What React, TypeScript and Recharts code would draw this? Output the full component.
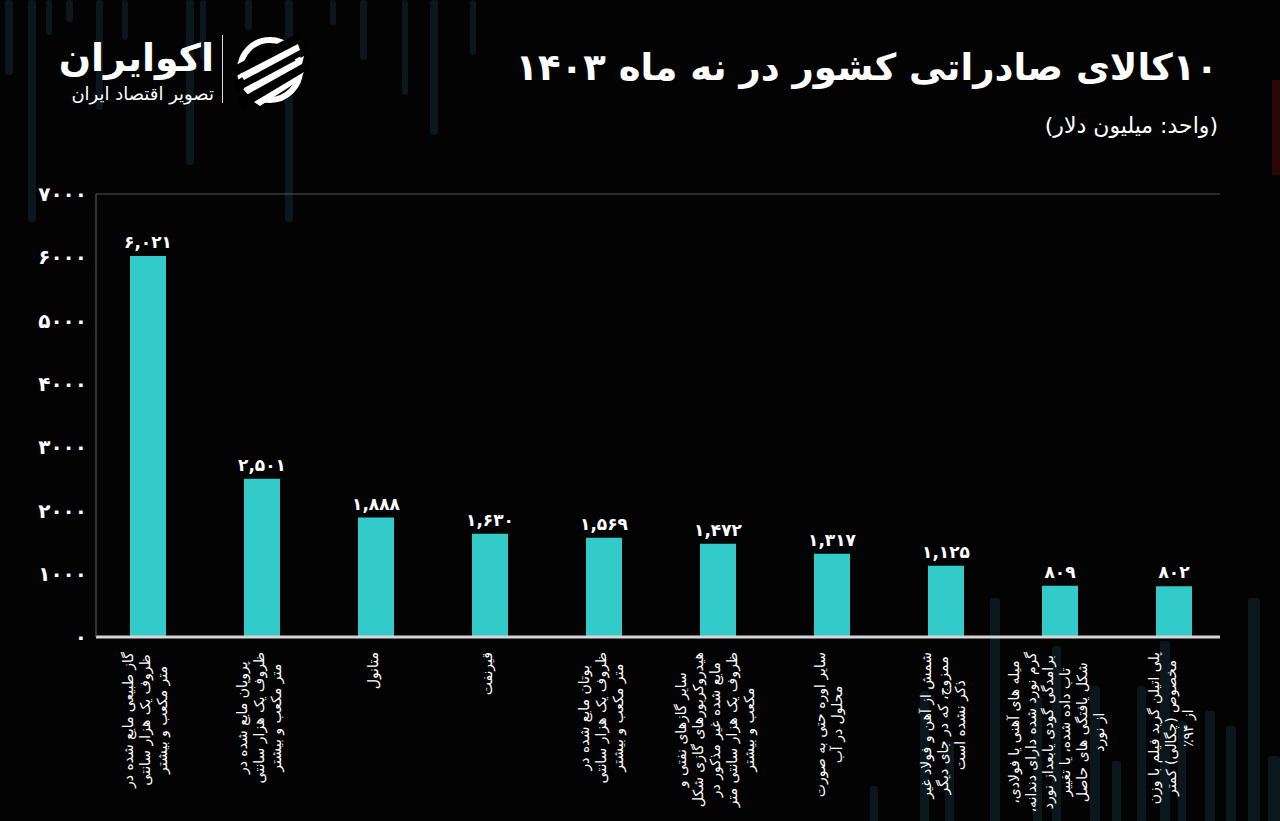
import { BarChart, Bar, XAxis, YAxis, CartesianGrid, LabelList } from "recharts";

const categoryLines: string[][] = [
  ["گاز طبیعی مایع شده در", "ظروف یک هزار سانتی", "متر مکعب و بیشتر"],
  ["پروپان مایع شده در", "ظروف یک هزار سانتی", "متر مکعب و بیشتر"],
  ["متانول"],
  ["قیرنفت"],
  ["بوتان مایع شده در", "ظروف یک هزار سانتی", "متر مکعب و بیشتر"],
  [
    "سایر گازهای نفتی و",
    "هیدروکربورهای گازی شکل",
    "مایع شده غیر مذکور در",
    "ظروف یک هزار سانتی متر",
    "مکعب و بیشتر",
  ],
  ["سایر اوره حتی به صورت", "محلول در آب"],
  ["شمش از آهن و فولاد غیر", "ممزوج، که در جای دیگر", "ذکر نشده است"],
  [
    "میله های آهنی یا فولادی،",
    "گرم نورد شده دارای دندانه،",
    "برامدگی گودی یابعداز نورد",
    "تاب داده شده، یا تغییر",
    "شکل یافتگی های حاصل",
    "از نورد",
  ],
  ["پلی اتیلن گرید فیلم با وزن", "مخصوص (چگالی) کمتر", "از ۹۴٪"],
];

const exportValues = [6021, 2501, 1888, 1630, 1569, 1472, 1317, 1125, 809, 802];

const yTicks = [0, 1000, 2000, 3000, 4000, 5000, 6000, 7000];

const title = "۱۰کالای صادراتی کشور در نه ماه ۱۴۰۳";
const subtitle = "(واحد: میلیون دلار)";
const brandName = "اکوایران";
const brandTagline = "تصویر اقتصاد ایران";

const data = categoryLines.map((lines, i) => ({
  name: lines.join(" "),
  value: exportValues[i],
}));

// background ornaments (dim vertical strips like the original artwork)
const topStrips = [
  [5, 8, 75], [28, 8, 222], [46, 6, 35], [66, 7, 22], [96, 7, 110],
  [122, 6, 40], [186, 8, 165], [200, 6, 60], [245, 7, 30], [285, 8, 222],
  [330, 6, 25], [360, 7, 60], [402, 6, 95], [430, 8, 135], [470, 6, 55],
];
const bottomStrips = [
  [990, 10, 223], [1033, 9, 125], [1052, 9, 175], [1090, 10, 135], [1112, 9, 60],
  [1137, 9, 135], [1160, 10, 180], [1178, 8, 100], [1205, 10, 110], [1226, 10, 95],
  [1248, 12, 223], [1268, 12, 65], [920, 9, 130], [945, 9, 80], [870, 8, 35],
];

const FONT = "'DejaVu Sans', sans-serif";
const FA_DIGITS = "۰۱۲۳۴۵۶۷۸۹";

function toFa(n: number, grouped: boolean): string {
  const s = grouped ? n.toLocaleString("en-US") : String(n);
  return s.replace(/\d/g, (d) => FA_DIGITS[+d]);
}

const measureCtx =
  typeof document !== "undefined"
    ? document.createElement("canvas").getContext("2d")
    : null;

function textWidth(s: string, size: number): number {
  if (!measureCtx) return s.length * size * 0.5;
  measureCtx.font = `${size}px ${FONT}`;
  return measureCtx.measureText(s).width;
}

const LABEL_SIZE = 14;
const LINE_H = 17;

function CategoryTick(props: any) {
  const { x, y, index } = props;
  const lines = categoryLines[index] ?? [];
  const maxW = Math.max(...lines.map((l) => textWidth(l, LABEL_SIZE)));
  const n = lines.length;
  return (
    <g transform={`translate(${x - 3},${y + 13}) rotate(-90)`}>
      {lines.map((l, i) => (
        <text
          key={i}
          x={-maxW / 2}
          y={(i - (n - 1) / 2) * LINE_H}
          dy="0.35em"
          textAnchor="middle"
          direction="rtl"
          fill="#ffffff"
          fontSize={LABEL_SIZE}
          fontFamily={FONT}
        >
          {l}
        </text>
      ))}
    </g>
  );
}

function Logo() {
  return (
    <svg
      width={80}
      height={80}
      viewBox="0 0 80 80"
      style={{ position: "absolute", left: 230, top: 30 }}
    >
      <circle cx={40} cy={40} r={30} fill="none" stroke="#fff" strokeWidth={6} />
      <polygon points="4,52 76,10 78,22 8,62" fill="#000" />
      <polygon points="4,36 70,2 76,12 6,46" fill="#000" />
      <polygon points="8,70 80,26 80,40 14,78" fill="#000" />
      <polygon points="10,44 68,14 70,20 14,50" fill="#fff" />
      <polygon points="14,58 74,26 72,34 18,64" fill="#fff" />
      <polygon points="24,72 74,42 70,50 30,76" fill="#fff" />
    </svg>
  );
}

export default function App() {
  return (
    <div
      style={{
        position: "absolute",
        left: 0,
        top: 0,
        width: 1280,
        height: 821,
        background: "#030303",
        overflow: "hidden",
        fontFamily: FONT,
      }}
    >
      <svg width={1280} height={821} style={{ position: "absolute", left: 0, top: 0 }}>
        {topStrips.map(([x, w, h], i) => (
          <rect key={`t${i}`} x={x} y={0} width={w} height={h} rx={3} fill="#0a171c" />
        ))}
        {bottomStrips.map(([x, w, h], i) => (
          <rect key={`b${i}`} x={x} y={821 - h} width={w} height={h + 4} rx={3} fill="#0a171c" />
        ))}
        <rect x={1272} y={80} width={10} height={95} fill="#2a0707" />
      </svg>

      <div
        style={{
          position: "absolute",
          left: 46,
          top: 34,
          width: 168,
          color: "#fff",
          direction: "rtl",
          textAlign: "right",
        }}
      >
        <div style={{ fontSize: 38, fontWeight: 700, lineHeight: "48px" }}>{brandName}</div>
        <div style={{ fontSize: 18, lineHeight: "20px", marginTop: 2, letterSpacing: 1.5 }}>
          {brandTagline}
        </div>
      </div>
      <div
        style={{
          position: "absolute",
          left: 222,
          top: 35,
          width: 1,
          height: 68,
          background: "#ddd",
        }}
      />
      <Logo />

      <div
        style={{
          position: "absolute",
          right: 62,
          top: 46,
          color: "#fff",
          direction: "rtl",
          fontSize: 37,
          fontWeight: 700,
          whiteSpace: "nowrap",
        }}
      >
        {title}
      </div>
      <div
        style={{
          position: "absolute",
          right: 62,
          top: 113,
          color: "#fff",
          direction: "rtl",
          fontSize: 22,
          whiteSpace: "nowrap",
        }}
      >
        {subtitle}
      </div>

      <div style={{ position: "absolute", left: 0, top: 0 }}>
        <BarChart
          width={1280}
          height={821}
          data={data}
          margin={{ top: 194, right: 60, bottom: 4, left: 0 }}
          barSize={36}
        >
          <CartesianGrid horizontal vertical={false} stroke="#555" strokeWidth={1} />
          <XAxis
            dataKey="name"
            height={180}
            interval={0}
            tickLine={false}
            tickSize={0}
            padding={{ left: -5, right: -11 }}
            axisLine={{ stroke: "#d6d6d6", strokeWidth: 3 }}
            tick={<CategoryTick />}
          />
          <YAxis
            yAxisId="left"
            width={96}
            domain={[0, 7000]}
            ticks={yTicks}
            interval={0}
            tickLine={false}
            tickSize={0}
            tickMargin={9}
            axisLine={{ stroke: "#666" }}
            tickFormatter={(v: number) => toFa(v, false)}
            tick={{ fill: "#fff", fontSize: 20, fontWeight: 700, fontFamily: FONT }}
          />
          <YAxis
            yAxisId="right"
            orientation="right"
            width={0}
            domain={[0, 7000]}
            tick={false}
            tickLine={false}
            axisLine={{ stroke: "#666" }}
          />
          <Bar yAxisId="left" dataKey="value" fill="#33caca" isAnimationActive={false}>
            <LabelList
              dataKey="value"
              position="top"
              offset={8}
              formatter={(v: any) => toFa(Number(v), true)}
              fill="#fff"
              fontSize={17}
              fontWeight={700}
              fontFamily={FONT}
            />
          </Bar>
        </BarChart>
      </div>
    </div>
  );
}
